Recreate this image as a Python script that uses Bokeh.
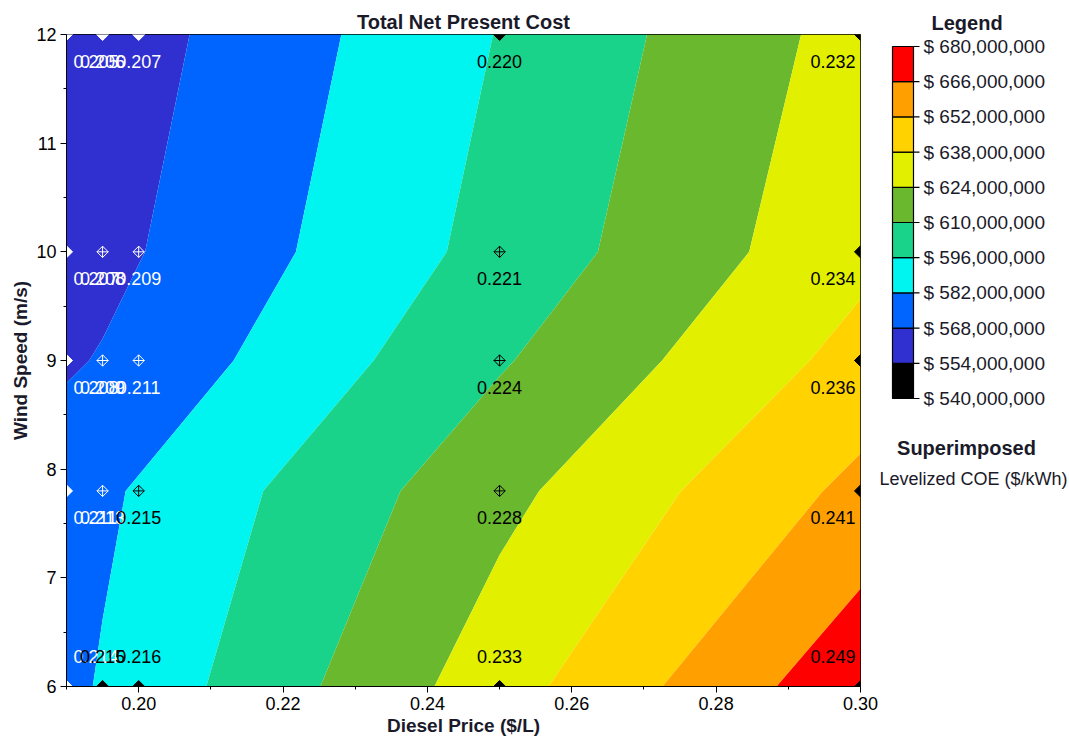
import numpy as np
from bokeh.plotting import figure
from bokeh.layouts import row
from bokeh.models import Range1d, FixedTicker, ColumnDataSource, PrintfTickFormatter
from bokeh.core.properties import value, field
from bokeh.embed import file_html
from bokeh.resources import INLINE

# ---------------- data ----------------
diesel_price = [0.19, 0.195, 0.20, 0.25, 0.30]          # $/L
wind_speed = [6.0, 7.8, 9.0, 10.0, 12.0]                 # m/s

# Total NPC (million $) for each wind speed, by diesel price
npc_ws6 = [578.8, 583.2, 587.7, 632.0, 676.3]
npc_ws7_8 = [576.1, 579.7, 583.3, 620.1, 655.7]
npc_ws9 = [566.3, 569.0, 572.5, 608.6, 642.8]
npc_ws10 = [560.7, 564.0, 567.4, 600.9, 634.3]
npc_ws12 = [556.6, 560.0, 563.3, 596.6, 629.4]

# Superimposed levelized COE ($/kWh)
lcoe_ws6 = [0.214, 0.215, 0.216, 0.233, 0.249]
lcoe_ws7_8 = [0.211, 0.213, 0.215, 0.228, 0.241]
lcoe_ws9 = [0.208, 0.209, 0.211, 0.224, 0.236]
lcoe_ws10 = [0.207, 0.208, 0.209, 0.221, 0.234]
lcoe_ws12 = [0.205, 0.206, 0.207, 0.220, 0.232]

npc_levels = [540e6, 554e6, 568e6, 582e6, 596e6, 610e6, 624e6, 638e6, 652e6, 666e6, 680e6]
band_colors = ["#000000", "#3030D0", "#0064FF", "#00F5F0", "#19D38A",
               "#6AB82E", "#E2F000", "#FFD200", "#FFA000", "#FF0000"]

x_ticks = [0.20, 0.22, 0.24, 0.26, 0.28, 0.30]
x_minor_ticks = [0.19, 0.21, 0.23, 0.25, 0.27, 0.29]
y_ticks = [6, 7, 8, 9, 10, 11, 12]
y_minor_ticks = [6.5, 7.5, 8.5, 9.5, 10.5, 11.5]

FONT = "Liberation Sans"
DARK = "#1a1a2a"

# ---------------- layout constants ----------------
TOTAL_H = 738
MAIN_W = 878
BORDER_TOP, BORDER_BOTTOM = 34, 52

# ---------------- main chart ----------------
p = figure(width=MAIN_W, height=TOTAL_H, x_range=Range1d(0.19, 0.30), y_range=Range1d(6, 12),
           output_backend="svg", toolbar_location=None,
           min_border_left=66, min_border_right=18,
           min_border_top=BORDER_TOP, min_border_bottom=BORDER_BOTTOM,
           title="Total Net Present Cost")
p.title.align = "center"
p.title.text_font = FONT
p.title.text_font_size = "20px"
p.title.text_font_style = "bold"
p.title.text_color = DARK
p.title.standoff = 3
p.grid.visible = False
p.outline_line_color = "black"
p.background_fill_color = "white"
p.border_fill_color = "white"

npc_grid = np.array([npc_ws6, npc_ws7_8, npc_ws9, npc_ws10, npc_ws12]) * 1e6
lcoe_grid = np.array([lcoe_ws6, lcoe_ws7_8, lcoe_ws9, lcoe_ws10, lcoe_ws12])

p.contour(x=diesel_price, y=wind_speed, z=npc_grid, levels=npc_levels,
          fill_color=band_colors)

# sensitivity points
xmin, xmax = min(diesel_price), max(diesel_price)
ymin, ymax = min(wind_speed), max(wind_speed)
light_limit = npc_levels[3]
pts = {k: [] for k in ["x", "y", "color", "label", "edge"]}
for j, w in enumerate(wind_speed):
    for i, d in enumerate(diesel_price):
        pts["x"].append(d)
        pts["y"].append(w)
        pts["color"].append("white" if npc_grid[j, i] < light_limit else "black")
        pts["label"].append(f"{lcoe_grid[j, i]:.3f}")
        pts["edge"].append(d in (xmin, xmax) or w in (ymin, ymax))


def subset(cond):
    idx = [k for k in range(len(pts["x"])) if cond(k)]
    return ColumnDataSource({key: [pts[key][k] for k in idx] for key in ["x", "y", "color", "label"]})


edge_src = subset(lambda k: pts["edge"][k])
inner_src = subset(lambda k: not pts["edge"][k])
p.scatter(x="x", y="y", source=edge_src, marker="square", angle=np.pi / 4, size=8.5,
          fill_color=field("color"), line_color=field("color"))
p.scatter(x="x", y="y", source=inner_src, marker="square_x", angle=np.pi / 4, size=8,
          fill_alpha=0, line_color=field("color"), line_width=1)

# labels
for align, xoff, col in [("left", 7, xmin), ("center", 0, None), ("right", -5, xmax)]:
    if col is None:
        cond = lambda k: pts["x"][k] not in (xmin, xmax)
    else:
        cond = (lambda c: (lambda k: pts["x"][k] == c))(col)
    for yoff, rowcond in [(27, lambda k: pts["y"][k] != ymin), (-30, lambda k: pts["y"][k] == ymin)]:
        src = subset(lambda k: cond(k) and rowcond(k))
        p.text(x="x", y="y", text="label", source=src, text_align=align, text_baseline="middle",
               x_offset=xoff, y_offset=yoff, text_color=field("color"),
               text_font=value(FONT), text_font_size="18px")

p.xaxis.ticker = FixedTicker(ticks=x_ticks, minor_ticks=x_minor_ticks)
p.xaxis.formatter = PrintfTickFormatter(format="%.2f")
p.yaxis.ticker = FixedTicker(ticks=y_ticks, minor_ticks=y_minor_ticks)
p.xaxis.axis_label = "Diesel Price ($/L)"
p.yaxis.axis_label = "Wind Speed (m/s)"
for ax in p.axis:
    ax.axis_line_color = "black"
    ax.major_tick_line_color = "black"
    ax.minor_tick_line_color = "black"
    ax.major_tick_in = 0
    ax.major_tick_out = 6
    ax.minor_tick_in = 0
    ax.minor_tick_out = 3
    ax.major_label_text_font = FONT
    ax.major_label_text_font_size = "18px"
    ax.major_label_text_color = "black"
    ax.major_label_standoff = 4
    ax.axis_label_text_font = FONT
    ax.axis_label_text_font_size = "19px"
    ax.axis_label_text_font_style = "bold"
    ax.axis_label_text_color = DARK
    ax.axis_label_standoff = 2

# ---------------- legend panel ----------------
LW = 1069 - MAIN_W
FRAME_H = TOTAL_H - BORDER_TOP - BORDER_BOTTOM
bar_top_px, bar_bot_px = 46 - BORDER_TOP, 398 - BORDER_TOP   # within the frame
s = (npc_levels[-1] - npc_levels[0]) / (bar_bot_px - bar_top_px)
y_end = npc_levels[-1] + bar_top_px * s
y_start = npc_levels[0] - (FRAME_H - bar_bot_px) * s


def ypx(px_page):
    return y_end - (px_page - BORDER_TOP) * s


leg = figure(width=LW, height=TOTAL_H, x_range=Range1d(0, LW), y_range=Range1d(y_start, y_end),
             output_backend="svg", toolbar_location=None,
             min_border_left=0, min_border_right=0,
             min_border_top=BORDER_TOP, min_border_bottom=BORDER_BOTTOM,
             x_axis_type=None, y_axis_type=None, title="Legend")
leg.title.align = "left"
leg.title.offset = 53
leg.title.text_font = FONT
leg.title.text_font_size = "20px"
leg.title.text_font_style = "bold"
leg.title.text_color = DARK
leg.title.standoff = 1
leg.grid.visible = False
leg.outline_line_color = None
leg.border_fill_color = "white"
leg.background_fill_color = "white"

leg.quad(left=14, right=35, bottom=npc_levels[:-1], top=npc_levels[1:],
         fill_color=band_colors, line_color="black", line_width=1.2)
leg.segment(x0=35, x1=41, y0=npc_levels, y1=npc_levels, line_color="black", line_width=1.2)
leg.text(x=[45] * len(npc_levels), y=npc_levels,
         text=[f"$ {int(v):,}" for v in npc_levels],
         text_baseline="middle", text_align="left", text_color=DARK,
         text_font=value(FONT), text_font_size="19px")
leg.text(x=[88], y=[ypx(447)], text=["Superimposed"], text_align="center", text_baseline="middle",
         text_font=value(FONT), text_font_size="20px", text_font_style="bold", text_color=DARK)
leg.text(x=[95], y=[ypx(478)], text=["Levelized COE ($/kWh)"], text_align="center",
         text_baseline="middle", text_font=value(FONT), text_font_size="18px", text_color=DARK)

layout = row(p, leg)
with open("out.html", "w") as f:
    f.write(file_html(layout, INLINE, title="Total Net Present Cost"))
